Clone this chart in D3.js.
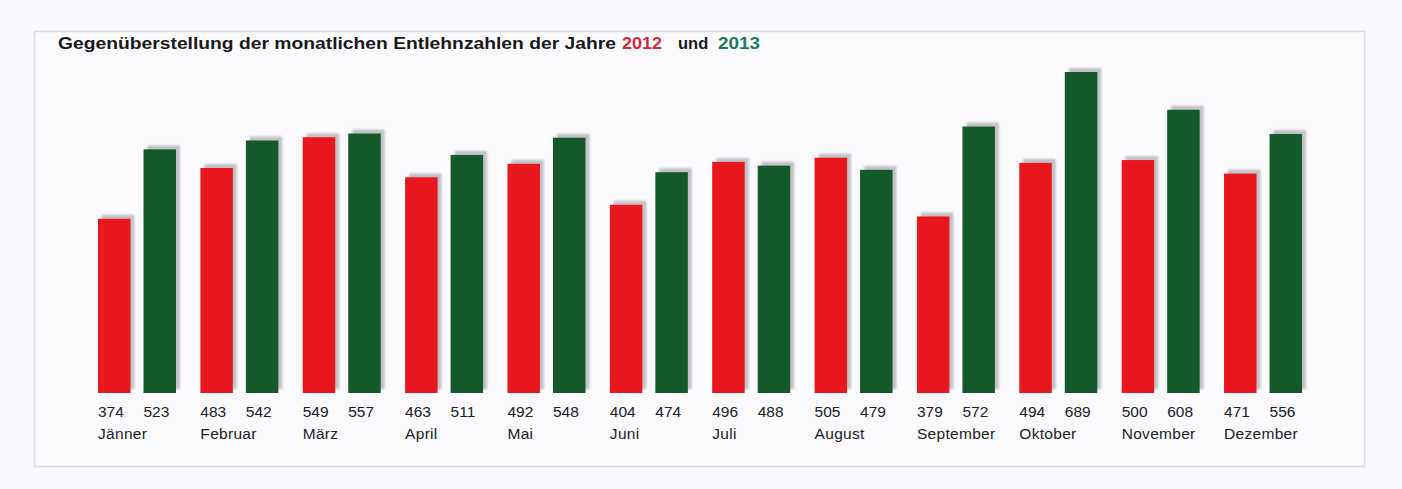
<!DOCTYPE html>
<html>
<head>
<meta charset="utf-8">
<script src="https://cdn.jsdelivr.net/npm/d3@7"></script>
<style>
  body { margin: 0; background: #f9f9fd; }
  svg { display: block; }
</style>
</head>
<body>
<div id="chart"></div>
<script>
// Data
var months = ["Jänner", "Februar", "März", "April", "Mai", "Juni", "Juli", "August", "September", "Oktober", "November", "Dezember"];
var years = ["2012", "2013"];
var values2012 = [374, 483, 549, 463, 492, 404, 496, 505, 379, 494, 500, 471];
var values2013 = [523, 542, 557, 511, 548, 474, 488, 479, 572, 689, 608, 556];

var width = 1402, height = 489;
var colours = {"2012": "#e8161d", "2013": "#14592a"};
var titleColours = {"2012": "#d8283c", "2013": "#1d7a5c"};
var font = "Liberation Sans, Arial, sans-serif";

var svg = d3.select("#chart").append("svg")
    .attr("width", width)
    .attr("height", height);

// soft shadow behind bars
var defs = svg.append("defs");
defs.append("filter").attr("id", "soft")
    .append("feGaussianBlur").attr("stdDeviation", 0.8);

// frame
svg.append("rect")
    .attr("x", 34.5).attr("y", 31.5)
    .attr("width", 1330).attr("height", 435)
    .attr("fill", "#fbfbfe")
    .attr("stroke", "#dcdce0")
    .attr("stroke-width", 1.5);

// scales
var baseline = 393;
var yScale = d3.scaleLinear().domain([0, 689]).range([baseline, 72]);
var x0 = d3.scaleBand().domain(months).range([98, 1326.4]).padding(0);
var x1 = d3.scaleBand().domain(years).range([0, 78]).paddingInner(0.286);

var table = months.map(function(m, i) {
    return {month: m, vals: [{year: "2012", v: values2012[i]}, {year: "2013", v: values2013[i]}]};
});

var groups = svg.selectAll(".month")
    .data(table)
    .enter().append("g")
    .attr("class", "month")
    .attr("transform", function(d) { return "translate(" + x0(d.month) + ",0)"; });

// shadows
groups.selectAll(".shadow")
    .data(function(d) { return d.vals; })
    .enter().append("rect")
    .attr("class", "shadow")
    .attr("x", function(d) { return x1(d.year) + 4; })
    .attr("y", function(d) { return yScale(d.v) - 4; })
    .attr("width", x1.bandwidth())
    .attr("height", function(d) { return baseline - yScale(d.v); })
    .attr("fill", "#c2c2c6")
    .attr("filter", "url(#soft)");

// bars
groups.selectAll(".bar")
    .data(function(d) { return d.vals; })
    .enter().append("rect")
    .attr("class", "bar")
    .attr("x", function(d) { return x1(d.year); })
    .attr("y", function(d) { return yScale(d.v); })
    .attr("width", x1.bandwidth())
    .attr("height", function(d) { return baseline - yScale(d.v); })
    .attr("fill", function(d) { return colours[d.year]; });

// value labels
groups.selectAll(".val")
    .data(function(d) { return d.vals; })
    .enter().append("text")
    .attr("class", "val")
    .attr("x", function(d) { return x1(d.year); })
    .attr("y", 417)
    .attr("font-family", font)
    .attr("font-size", 15.5)
    .attr("fill", "#222")
    .text(function(d) { return d.v; });

// month labels
groups.append("text")
    .attr("x", 0)
    .attr("y", 439)
    .attr("font-family", font)
    .attr("font-size", 15.5)
    .attr("letter-spacing", 0.3)
    .attr("fill", "#222")
    .text(function(d) { return d.month; });

// title, pieces placed where they sit in the picture
var title = svg.append("text")
    .attr("y", 49)
    .attr("font-family", font)
    .attr("font-size", 16.5)
    .attr("font-weight", "bold")
    .attr("fill", "#1a1a1a");
title.append("tspan").attr("x", 58)
    .attr("textLength", 558).attr("lengthAdjust", "spacingAndGlyphs")
    .text("Gegenüberstellung der monatlichen Entlehnzahlen der Jahre");
title.append("tspan").attr("x", 622).attr("fill", titleColours["2012"])
    .attr("textLength", 40).attr("lengthAdjust", "spacingAndGlyphs")
    .text("2012");
title.append("tspan").attr("x", 678)
    .text("und");
title.append("tspan").attr("x", 718).attr("fill", titleColours["2013"])
    .attr("textLength", 42).attr("lengthAdjust", "spacingAndGlyphs")
    .text("2013");
</script>
</body>
</html>
